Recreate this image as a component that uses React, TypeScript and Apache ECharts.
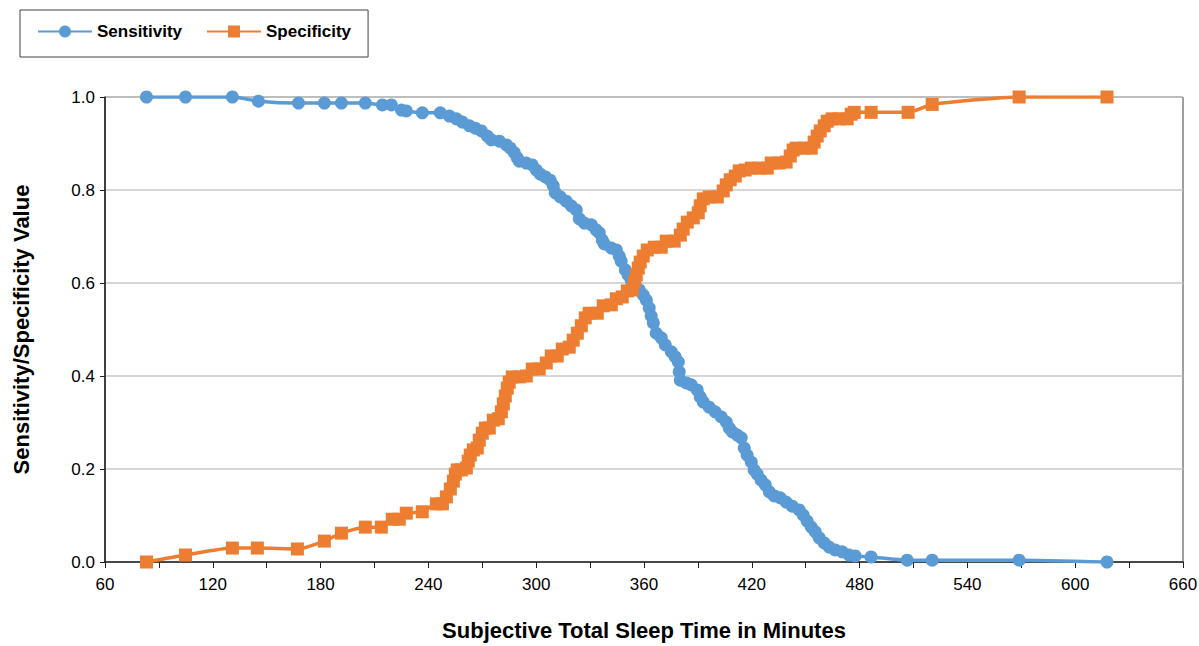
import React, { useEffect, useRef } from "react";
import * as echarts from "echarts";

// Sensitivity curve: minutes (x) and value (y)
const sensMinutes = [
  83.1, 104.8, 130.9, 145.4, 167.7, 182.1, 191.6, 204.9, 214.4, 219.4, 225.0, 227.7, 236.6, 246.6,
  251.7, 255.6, 258.9, 262.8, 266.1, 269.5, 272.8, 275.0, 279.5, 283.4, 285.6, 287.8, 289.5, 290.6,
  294.5, 297.8, 300.1, 302.3, 305.1, 307.8, 309.5, 310.6, 313.4, 316.7, 319.5, 322.3, 324.0, 326.8,
  330.7, 333.4, 335.1, 336.8, 337.9, 341.8, 344.6, 346.2, 347.3, 349.6, 351.2, 352.9, 355.1, 357.4,
  359.6, 361.3, 362.9, 364.0, 365.2, 366.8, 369.6, 371.8, 375.2, 377.4, 379.1, 379.6, 380.2, 383.5,
  386.3, 389.6, 391.3, 393.0, 396.3, 399.6, 403.0, 405.8, 407.4, 409.1, 411.9, 414.1, 415.8, 417.4,
  419.7, 421.3, 423.0, 425.2, 427.5, 429.7, 432.5, 435.8, 439.1, 442.5, 446.4, 448.6, 450.8, 453.1,
  455.3, 457.5, 460.3, 463.1, 466.4, 470.3, 474.2, 477.5, 486.4, 506.5, 520.4, 568.8, 617.7,
];
const sensitivity = [
  1.0, 1.0, 1.0, 0.991, 0.987, 0.987, 0.987, 0.987, 0.983, 0.983, 0.972, 0.97, 0.966, 0.966,
  0.959, 0.953, 0.946, 0.938, 0.933, 0.927, 0.916, 0.908, 0.905, 0.897, 0.89, 0.88, 0.869, 0.862,
  0.858, 0.854, 0.843, 0.834, 0.828, 0.821, 0.809, 0.794, 0.785, 0.776, 0.766, 0.757, 0.738, 0.729,
  0.725, 0.714, 0.708, 0.692, 0.684, 0.675, 0.671, 0.658, 0.647, 0.628, 0.617, 0.606, 0.596, 0.585,
  0.574, 0.563, 0.546, 0.529, 0.514, 0.492, 0.482, 0.467, 0.452, 0.441, 0.43, 0.409, 0.391, 0.385,
  0.381, 0.37, 0.355, 0.344, 0.333, 0.323, 0.312, 0.301, 0.288, 0.28, 0.273, 0.267, 0.245, 0.23,
  0.215, 0.198, 0.189, 0.176, 0.166, 0.151, 0.142, 0.138, 0.129, 0.12, 0.112, 0.101, 0.088, 0.075,
  0.065, 0.052, 0.041, 0.032, 0.026, 0.022, 0.015, 0.013, 0.011, 0.004, 0.004, 0.004, 0.0,
];

// Specificity curve: minutes (x) and value (y)
const specMinutes = [
  83.1, 104.8, 130.9, 144.8, 167.1, 182.1, 191.6, 204.9, 213.8, 219.9, 223.8, 227.7, 236.6, 244.4,
  247.8, 250.0, 252.2, 253.9, 255.0, 256.1, 258.3, 261.1, 262.2, 263.3, 265.0, 267.2, 268.3, 270.0,
  271.7, 273.9, 276.1, 278.9, 280.6, 281.7, 282.8, 283.9, 285.0, 286.7, 290.6, 294.5, 297.8, 301.7,
  305.6, 308.4, 311.7, 314.5, 318.4, 320.6, 322.9, 325.1, 327.3, 329.5, 334.0, 337.3, 341.8, 344.6,
  347.9, 350.7, 353.5, 354.6, 355.7, 356.8, 357.9, 359.6, 361.8, 365.7, 369.6, 372.4, 376.8, 380.2,
  381.8, 384.1, 387.4, 390.2, 391.3, 393.0, 396.3, 400.8, 404.1, 405.8, 408.0, 410.8, 413.0, 416.3,
  419.7, 424.1, 428.6, 430.8, 435.2, 439.1, 441.4, 443.0, 444.7, 449.2, 453.1, 454.7, 456.4, 458.1,
  460.3, 462.0, 464.7, 468.6, 473.1, 475.3, 477.0, 486.4, 507.0, 520.4, 568.8, 617.7,
];
const specificity = [
  0.0, 0.015, 0.03, 0.03, 0.028, 0.045, 0.062, 0.075, 0.075, 0.092, 0.092, 0.105, 0.108, 0.125,
  0.125, 0.14, 0.157, 0.174, 0.189, 0.198, 0.198, 0.202, 0.217, 0.23, 0.241, 0.245, 0.262, 0.277,
  0.288, 0.288, 0.305, 0.308, 0.323, 0.34, 0.357, 0.374, 0.387, 0.398, 0.398, 0.4, 0.415, 0.415,
  0.428, 0.443, 0.443, 0.458, 0.462, 0.477, 0.492, 0.508, 0.525, 0.535, 0.535, 0.551, 0.553, 0.566,
  0.57, 0.583, 0.585, 0.602, 0.617, 0.632, 0.645, 0.658, 0.671, 0.677, 0.677, 0.69, 0.69, 0.703,
  0.716, 0.731, 0.74, 0.751, 0.766, 0.781, 0.785, 0.785, 0.798, 0.811, 0.822, 0.83, 0.841, 0.843,
  0.847, 0.847, 0.847, 0.858, 0.858, 0.86, 0.873, 0.886, 0.89, 0.89, 0.89, 0.903, 0.916, 0.927,
  0.938, 0.948, 0.953, 0.953, 0.953, 0.963, 0.967, 0.967, 0.967, 0.984, 1.0, 1.0,
];

const seriesNames = ["Sensitivity", "Specificity"];
const colors = ["#5B9BD5", "#ED7D31"];
const xTitle = "Subjective Total Sleep Time in Minutes";
const yTitle = "Sensitivity/Specificity Value";

const FONT = '"Liberation Sans", Arial, sans-serif';

export default function App() {
  const ref = useRef<HTMLDivElement>(null);

  useEffect(() => {
    if (!ref.current) return;
    const chart = echarts.init(ref.current, null, { renderer: "svg" });
    const sensData = sensMinutes.map((m, i) => [m, sensitivity[i]]);
    const specData = specMinutes.map((m, i) => [m, specificity[i]]);

    chart.setOption({
      animation: false,
      backgroundColor: "#ffffff",
      textStyle: { fontFamily: FONT },
      legend: {
        left: 20,
        top: 10,
        padding: [13, 17, 17, 17],
        itemWidth: 54,
        itemHeight: 15,
        itemGap: 24,
        borderColor: "#404040",
        borderWidth: 1,
        textStyle: { fontFamily: FONT, fontSize: 17, fontWeight: "bold", color: "#000" },
        data: seriesNames,
      },
      grid: {
        left: 105,
        right: 16,
        top: 97,
        bottom: 84,
        show: true,
        borderColor: "#404040",
        borderWidth: 1,
        containLabel: false,
        outerBoundsMode: "none",
      },
      xAxis: {
        type: "value",
        min: 60,
        max: 660,
        interval: 30,
        name: xTitle,
        nameLocation: "middle",
        nameGap: 57,
        nameTextStyle: { fontFamily: FONT, fontSize: 22, fontWeight: "bold", color: "#000" },
        axisLine: { show: true, lineStyle: { color: "#202020", width: 1.5 } },
        axisTick: { show: true, inside: false, length: 6, lineStyle: { color: "#202020" } },
        axisLabel: {
          margin: 14,
          fontFamily: FONT,
          fontSize: 17,
          color: "#000",
          formatter: (v: number) => ((v - 60) % 60 === 0 ? String(v) : ""),
        },
        splitLine: { show: false },
      },
      yAxis: {
        type: "value",
        min: 0,
        max: 1,
        interval: 0.2,
        name: yTitle,
        nameLocation: "middle",
        nameGap: 73,
        nameTextStyle: { fontFamily: FONT, fontSize: 22, fontWeight: "bold", color: "#000" },
        axisLine: { show: true, lineStyle: { color: "#202020", width: 1.5 } },
        axisTick: { show: true, inside: false, length: 5, lineStyle: { color: "#202020" } },
        axisLabel: {
          margin: 10,
          fontFamily: FONT,
          fontSize: 17,
          color: "#000",
          formatter: (v: number) => v.toFixed(1),
        },
        splitLine: { show: true, lineStyle: { color: "#C8C8C8", width: 1.5 } },
      },
      series: [
        {
          name: seriesNames[0],
          type: "line",
          data: sensData,
          smooth: 0.2,
          symbol: "circle",
          symbolSize: 13,
          showAllSymbol: true,
          color: colors[0],
          lineStyle: { width: 3.5, color: colors[0] },
          itemStyle: { color: colors[0] },
        },
        {
          name: seriesNames[1],
          type: "line",
          data: specData,
          smooth: 0.2,
          symbol: "rect",
          symbolSize: 13,
          showAllSymbol: true,
          color: colors[1],
          lineStyle: { width: 3.5, color: colors[1] },
          itemStyle: { color: colors[1] },
        },
      ],
    });

    return () => chart.dispose();
  }, []);

  return (
    <div
      ref={ref}
      style={{ position: "fixed", left: 0, top: 0, width: 1199, height: 646 }}
    />
  );
}
